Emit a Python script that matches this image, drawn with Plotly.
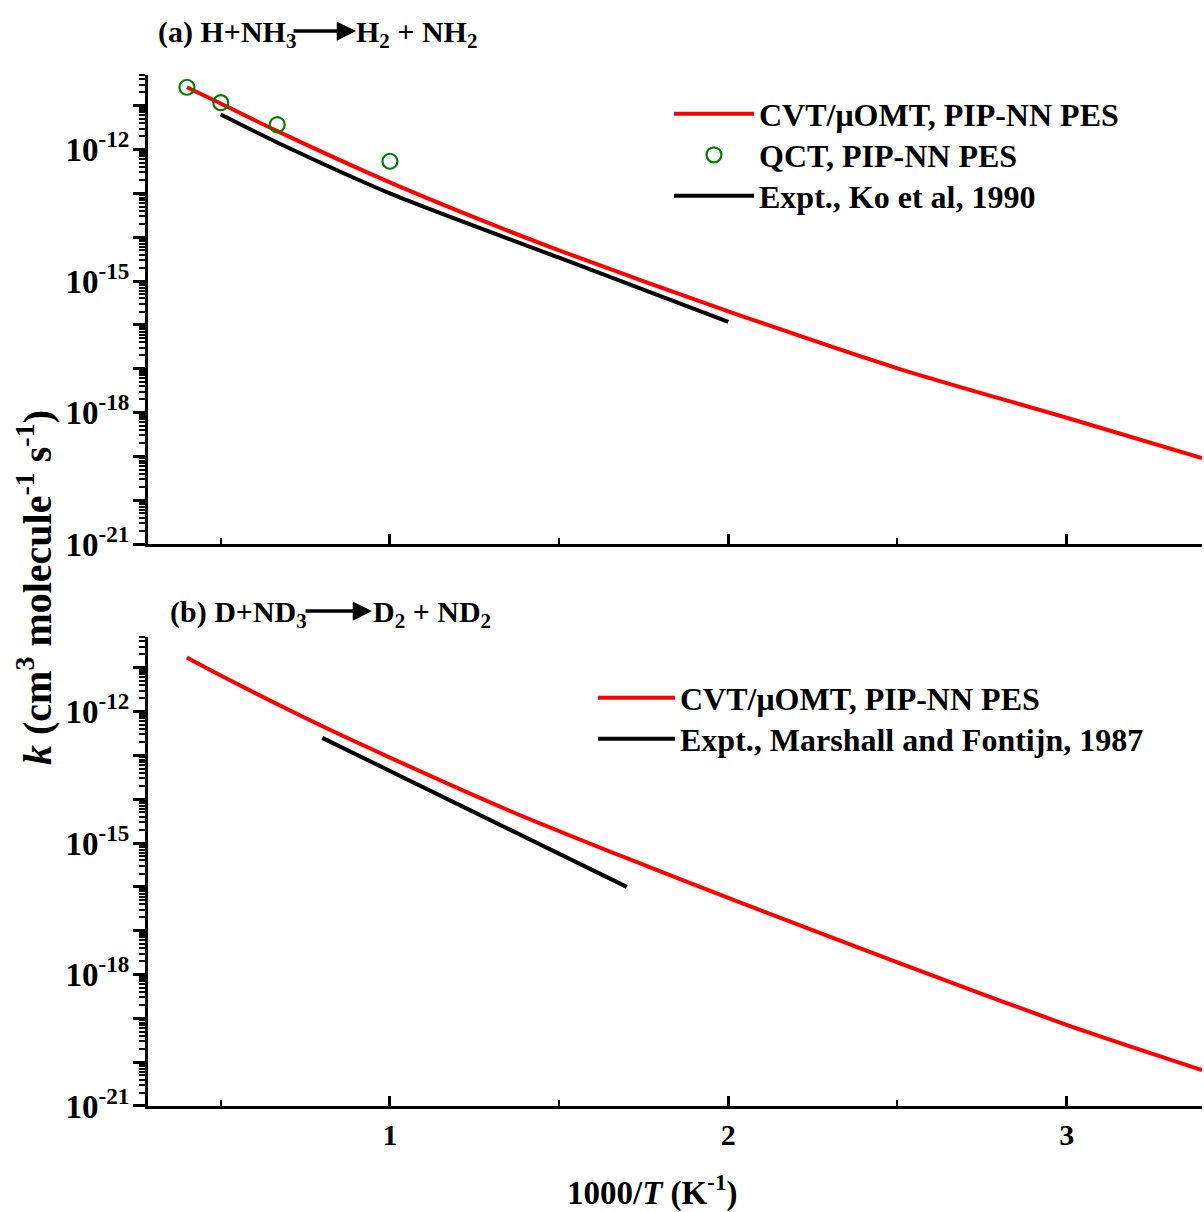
import plotly.graph_objects as go

# ---------------- data ----------------
# Panel (a): H + NH3 -> H2 + NH2
x_cvt_a = [0.4, 0.5, 0.667, 1.0, 1.25, 1.5, 2.0, 2.5, 3.0, 3.4]
k_cvt_a = [2.63e-11, 1.12e-11, 2.63e-12, 1.78e-13, 2.82e-14, 5.0e-15, 2.04e-16, 1.02e-17, 7.6e-19, 9.1e-20]

x_qct_a = [0.4, 0.5, 0.667, 1.0]
k_qct_a = [2.63e-11, 1.17e-11, 3.7e-12, 5.4e-13]

x_exp_a = [0.5, 0.667, 1.0, 1.5, 2.0]
k_exp_a = [6.3e-12, 1.45e-12, 1.0e-13, 3.4e-15, 1.17e-16]

# Panel (b): D + ND3 -> D2 + ND2
x_cvt_b = [0.4, 0.5, 0.75, 1.0, 1.35, 1.7, 2.0, 2.5, 3.0, 3.4]
k_cvt_b = [1.7e-11, 6.6e-12, 7.1e-13, 8.9e-14, 5.6e-15, 4.5e-16, 5.6e-17, 1.9e-18, 7.1e-20, 6.6e-21]

x_exp_b = [0.8, 1.25, 1.7]
k_exp_b = [2.5e-13, 5.0e-15, 1.0e-16]

x_ticks = [1, 2, 3]
x_ticktext = ["1", "2", "3"]
decades = list(range(-21, -10))
labelled_decades = [-21, -18, -15, -12]

# ---------------- figure ----------------
FONT = "Liberation Serif"
RED = "#ff0000"
GREEN = "#008000"

fig = go.Figure()

fig.add_trace(go.Scatter(x=x_cvt_a, y=k_cvt_a, mode="lines", line=dict(color=RED, width=4, shape="spline", smoothing=0.8),
                         name="CVT/μOMT, PIP-NN PES", xaxis="x", yaxis="y", legend="legend"))
fig.add_trace(go.Scatter(x=x_qct_a, y=k_qct_a, mode="markers",
                         marker=dict(symbol="circle-open", size=15, color=GREEN, line=dict(width=2.2, color=GREEN)),
                         name="QCT, PIP-NN PES", xaxis="x", yaxis="y", legend="legend3"))
fig.add_trace(go.Scatter(x=x_exp_a, y=k_exp_a, mode="lines", line=dict(color="black", width=4, shape="spline", smoothing=0.8),
                         name="Expt., Ko et al, 1990", xaxis="x", yaxis="y", legend="legend4"))

fig.add_trace(go.Scatter(x=x_cvt_b, y=k_cvt_b, mode="lines", line=dict(color=RED, width=4, shape="spline", smoothing=0.8),
                         name="CVT/μOMT, PIP-NN PES", xaxis="x2", yaxis="y2", legend="legend2"))
fig.add_trace(go.Scatter(x=x_exp_b, y=k_exp_b, mode="lines", line=dict(color="black", width=4, shape="spline", smoothing=0.8),
                         name="Expt., Marshall and Fontijn, 1987", xaxis="x2", yaxis="y2", legend="legend5"))

minor_vals = [m * 10.0 ** d for d in decades for m in range(2, 10)]
major_vals = [10.0 ** d for d in decades]
major_text = [("10<sup>%d</sup>" % d) if d in labelled_decades else "" for d in decades]

def yaxis_cfg(domain, anchor):
    return dict(
        type="log", range=[-21, -10.3], domain=domain, anchor=anchor,
        showline=True, linecolor="black", linewidth=3, mirror=False,
        showgrid=False, zeroline=False,
        tickmode="array", tickvals=major_vals, ticktext=major_text,
        ticks="outside", ticklen=12, tickwidth=2.5, tickcolor="black",
        ticklabelstandoff=-3,
        tickfont=dict(family=FONT, size=33, color="black", weight="bold"),
        minor=dict(tickmode="array", tickvals=minor_vals, ticks="outside", ticklen=6,
                   tickwidth=1.5, tickcolor="black", showgrid=False),
    )

def xaxis_cfg(anchor, show_labels):
    return dict(
        range=[0.285, 3.4], anchor=anchor, domain=[0, 1],
        showline=True, linecolor="black", linewidth=3, mirror=False,
        showgrid=False, zeroline=False,
        tickmode="array", tickvals=x_ticks, ticktext=x_ticktext, showticklabels=show_labels,
        ticks="inside", ticklen=10, tickwidth=2.5, tickcolor="black",
        tickfont=dict(family=FONT, size=30, color="black", weight="bold"),
        minor=dict(tick0=0, dtick=0.5, ticks="inside", ticklen=6, tickwidth=2, tickcolor="black", showgrid=False),
    )

top_dom = [0.5451, 1.0]
bot_dom = [0.0, 0.4549]


def px_x(px):
    return (px - 148) / 1054.0


def px_y(py):
    return (1106 - py) / 1031.0


legend_font = dict(family=FONT, size=32, color="black", weight="bold")


def legend_cfg(px_left, py_center, width):
    return dict(x=px_x(px_left), y=px_y(py_center), xanchor="left", yanchor="middle", font=legend_font,
                bgcolor="rgba(0,0,0,0)", itemwidth=width, borderwidth=0)


fig.update_layout(
    width=1204, height=1212,
    margin=dict(l=148, r=2, t=75, b=106),
    paper_bgcolor="white", plot_bgcolor="white",
    font=dict(family=FONT, color="black", weight="bold"),
    xaxis=xaxis_cfg("y", False),
    yaxis=yaxis_cfg(top_dom, "x"),
    xaxis2=xaxis_cfg("y2", True),
    yaxis2=yaxis_cfg(bot_dom, "x2"),
    legend=legend_cfg(669, 114, 80),
    legend3=legend_cfg(669, 155, 80),
    legend4=legend_cfg(669, 196, 80),
    legend2=legend_cfg(593, 698, 77),
    legend5=legend_cfg(593, 739, 77),
    showlegend=True,
)

title_font = dict(family=FONT, size=30, color="black", weight="bold")

annotations = [
    # panel (a) title
    dict(text="(a) H+NH<sub>3</sub>", x=px_x(156), y=px_y(34), xref="paper", yref="paper",
         xanchor="left", yanchor="middle", showarrow=False, font=title_font),
    dict(text="", x=px_x(356), y=px_y(31), xref="paper", yref="paper", ax=-64, ay=0,
         showarrow=True, arrowhead=2, arrowsize=1.1, arrowwidth=3.5, arrowcolor="black", standoff=0),
    dict(text="H<sub>2</sub> + NH<sub>2</sub>", x=px_x(354), y=px_y(34), xref="paper", yref="paper",
         xanchor="left", yanchor="middle", showarrow=False, font=title_font),
    # panel (b) title
    dict(text="(b) D+ND<sub>3</sub>", x=px_x(168), y=px_y(614), xref="paper", yref="paper",
         xanchor="left", yanchor="middle", showarrow=False, font=title_font),
    dict(text="", x=px_x(372), y=px_y(611), xref="paper", yref="paper", ax=-68, ay=0,
         showarrow=True, arrowhead=2, arrowsize=1.1, arrowwidth=3.5, arrowcolor="black", standoff=0),
    dict(text="D<sub>2</sub> + ND<sub>2</sub>", x=px_x(371), y=px_y(614), xref="paper", yref="paper",
         xanchor="left", yanchor="middle", showarrow=False, font=title_font),
    # axis titles
    dict(text="<i>k</i> (cm<sup>3</sup> molecule<sup>-1</sup> s<sup>-1</sup>)", x=px_x(34), y=px_y(588),
         xref="paper", yref="paper", xanchor="center", yanchor="middle", textangle=-90, showarrow=False,
         font=dict(family=FONT, size=40, color="black", weight="bold")),
    dict(text="1000/<i>T</i> (K<sup>-1</sup>)", x=px_x(652), y=px_y(1190), xref="paper", yref="paper",
         xanchor="center", yanchor="middle", showarrow=False,
         font=dict(family=FONT, size=33, color="black", weight="bold")),
]
fig.update_layout(annotations=annotations)

fig.write_html("out.html", config={"displayModeBar": False},
               post_script="document.body.style.margin='0px';document.body.style.overflow='hidden';")
